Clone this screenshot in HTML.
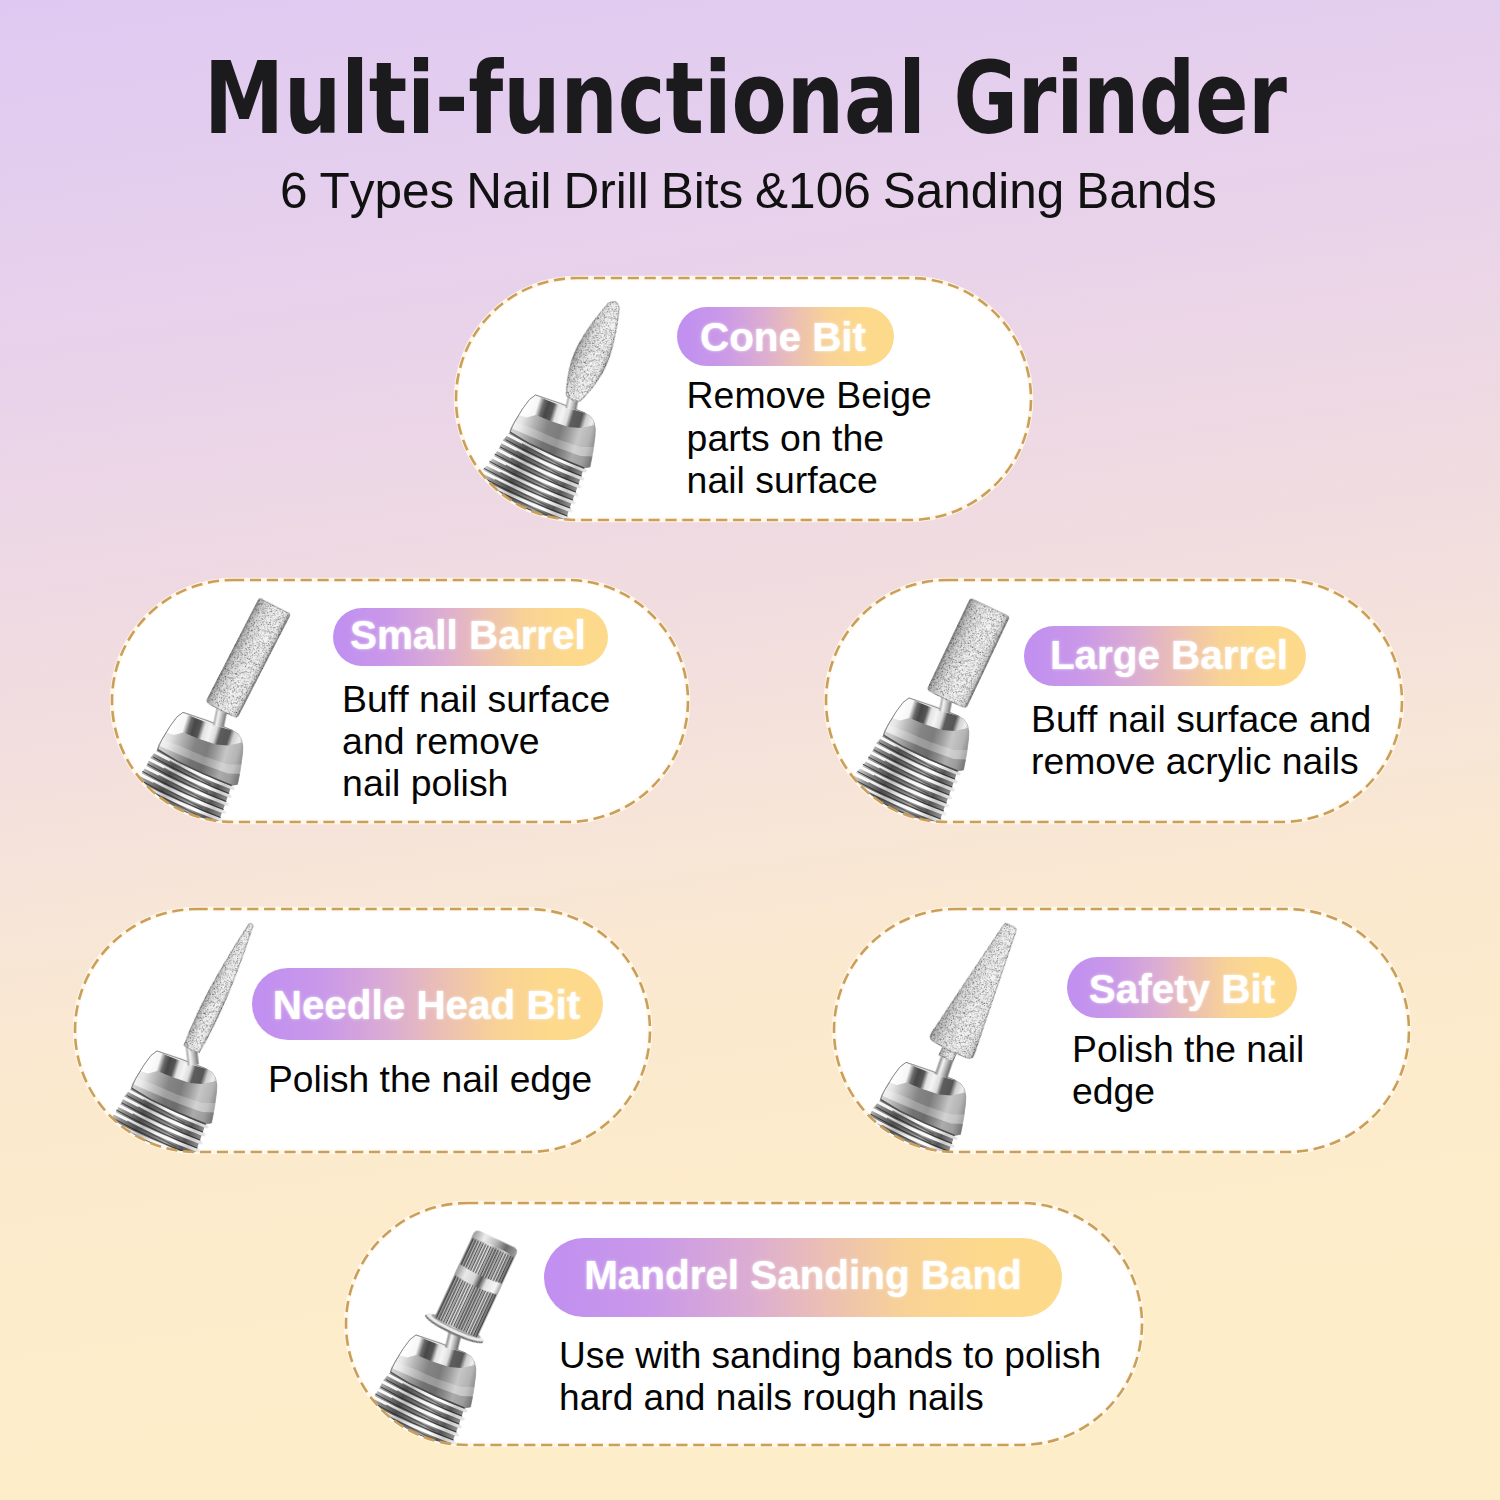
<!DOCTYPE html>
<html lang="en"><head><meta charset="utf-8"><title>Multi-functional Grinder</title>
<style>
html,body{margin:0;padding:0;background:#fff}
#page{position:relative;width:1500px;height:1500px;overflow:hidden;
 background:linear-gradient(172deg,#dfc9f2 0%,#e9d3ea 23.5%,#f2dede 43.8%,#f7e5d8 53.9%,#fbe9ce 64.5%,#feedc9 86%,#feedc9 100%);
 font-family:"Liberation Sans",Arial,sans-serif}
#art{position:absolute;left:0;top:0}
.title{position:absolute;left:0;top:0;white-space:nowrap;font-weight:bold;color:#1b1a1c;transform-origin:0 0}
.sub{position:absolute;white-space:nowrap;color:#111}
.badge{position:absolute;color:#fff;font-weight:bold;font-size:40.4px;text-align:center;white-space:nowrap;
 text-shadow:0 0 2px rgba(255,255,255,.75),0 0 4px rgba(255,255,255,.3)}
.desc{position:absolute;color:#050505;font-size:37.4px;line-height:42.2px;white-space:nowrap;font-kerning:none}
</style></head><body>
<div id="page">

<svg id="art" width="1500" height="1500" viewBox="0 0 1500 1500">
<defs>
<linearGradient id="bg" x1="0" y1="0" x2="1" y2="0">
<stop offset="0" stop-color="#c08ff1"/><stop offset=".2" stop-color="#c998e9"/><stop offset=".4" stop-color="#dcadd2"/>
<stop offset=".55" stop-color="#ecc0b2"/><stop offset=".7" stop-color="#f8d296"/><stop offset=".85" stop-color="#fdd98c"/><stop offset="1" stop-color="#fdd98c"/>
</linearGradient>
<linearGradient id="mCone" gradientUnits="userSpaceOnUse" x1="-12" y1="12" x2="60" y2="34">
<stop offset="0" stop-color="#fff"/><stop offset=".17" stop-color="#f6f6f6"/><stop offset=".24" stop-color="#6a6a6a"/>
<stop offset=".3" stop-color="#474747"/><stop offset=".38" stop-color="#555"/><stop offset=".44" stop-color="#e2e2e2"/>
<stop offset=".52" stop-color="#f4f4f4"/><stop offset=".6" stop-color="#dcdcdc"/><stop offset=".66" stop-color="#5c5c5c"/>
<stop offset=".78" stop-color="#575757"/><stop offset=".84" stop-color="#cfcfcf"/><stop offset=".93" stop-color="#efefef"/><stop offset="1" stop-color="#a8a8a8"/>
</linearGradient>
<linearGradient id="mBody" gradientUnits="userSpaceOnUse" x1="-30" y1="36" x2="60" y2="62">
<stop offset="0" stop-color="#bdbdbd"/><stop offset=".04" stop-color="#f4f4f4"/><stop offset=".14" stop-color="#e4e4e4"/>
<stop offset=".27" stop-color="#b4b4b4"/><stop offset=".42" stop-color="#848484"/><stop offset=".56" stop-color="#7c7c7c"/><stop offset=".66" stop-color="#9d9d9d"/>
<stop offset=".76" stop-color="#c6c6c6"/><stop offset=".88" stop-color="#b4b4b4"/><stop offset=".96" stop-color="#8c8c8c"/><stop offset="1" stop-color="#6c6c6c"/>
</linearGradient>
<linearGradient id="mThr" gradientUnits="userSpaceOnUse" x1="-45" y1="60" x2="45" y2="100">
<stop offset="0" stop-color="#d0d0d0"/><stop offset=".12" stop-color="#8a8a8a"/><stop offset=".3" stop-color="#4d4d4d"/>
<stop offset=".48" stop-color="#777"/><stop offset=".62" stop-color="#a9a9a9"/><stop offset=".8" stop-color="#555"/>
<stop offset="1" stop-color="#a5a5a5"/>
</linearGradient>
<linearGradient id="mRidge" gradientUnits="userSpaceOnUse" x1="-45" y1="60" x2="45" y2="100">
<stop offset="0" stop-color="#fff"/><stop offset=".2" stop-color="#f2f2f2"/><stop offset=".35" stop-color="#bdbdbd"/>
<stop offset=".5" stop-color="#f4f4f4"/><stop offset=".7" stop-color="#fff"/><stop offset=".85" stop-color="#c9c9c9"/>
<stop offset="1" stop-color="#f3f3f3"/>
</linearGradient>
<linearGradient id="mPin" gradientUnits="userSpaceOnUse" x1="-6" y1="0" x2="6" y2="0">
<stop offset="0" stop-color="#8c8c8c"/><stop offset=".3" stop-color="#f4f4f4"/><stop offset=".6" stop-color="#bdbdbd"/><stop offset="1" stop-color="#6a6a6a"/>
</linearGradient>
<linearGradient id="grit" gradientUnits="objectBoundingBox" x1="0" y1="0" x2="1" y2="0">
<stop offset="0" stop-color="#6f6f6f"/><stop offset=".05" stop-color="#b4b4b4"/><stop offset=".25" stop-color="#dedede"/>
<stop offset=".55" stop-color="#f4f4f4"/><stop offset=".82" stop-color="#f0f0f0"/><stop offset=".95" stop-color="#cdcdcd"/><stop offset="1" stop-color="#5f5f5f"/>
</linearGradient>
<filter id="speck" x="-5%" y="-5%" width="110%" height="110%" color-interpolation-filters="sRGB">
<feTurbulence type="fractalNoise" baseFrequency="1.15" numOctaves="2" seed="11" result="n"/>
<feColorMatrix in="n" type="matrix" values="1.7 0 0 0 0.11  1.7 0 0 0 0.11  1.7 0 0 0 0.11  0 0 0 0 1" result="g"/>
<feBlend in="SourceGraphic" in2="g" mode="multiply" result="m"/>
<feComposite in="m" in2="SourceGraphic" operator="in" result="c"/>
<feGaussianBlur in="c" stdDeviation="0.35"/>
</filter>
<filter id="soft" x="-10%" y="-10%" width="120%" height="120%"><feGaussianBlur stdDeviation="0.45"/></filter>

<clipPath id="cp0"><rect x="456" y="278" width="575" height="242" rx="121.0"/></clipPath>
<clipPath id="cp1"><rect x="112" y="580" width="576" height="242" rx="121.0"/></clipPath>
<clipPath id="cp2"><rect x="826" y="580" width="576" height="242" rx="121.0"/></clipPath>
<clipPath id="cp3"><rect x="75" y="909" width="575" height="243" rx="121.5"/></clipPath>
<clipPath id="cp4"><rect x="834" y="909" width="575" height="243" rx="121.5"/></clipPath>
<clipPath id="cp5"><rect x="346" y="1203" width="796" height="242" rx="121.0"/></clipPath>
</defs>
<defs>
<linearGradient id="knurlBase" gradientUnits="objectBoundingBox" x1="0" y1="0" x2="1" y2="0">
<stop offset="0" stop-color="#7a7a7a"/><stop offset=".15" stop-color="#c9c9c9"/><stop offset=".42" stop-color="#ededed"/>
<stop offset=".55" stop-color="#a9a9a9"/><stop offset=".8" stop-color="#e2e2e2"/><stop offset="1" stop-color="#7a7a7a"/>
</linearGradient>
<linearGradient id="knurlMid" gradientUnits="objectBoundingBox" x1="0" y1="0" x2="1" y2="0">
<stop offset="0" stop-color="#9b9b9b"/><stop offset=".2" stop-color="#e9e9e9"/><stop offset=".42" stop-color="#d6d6d6"/>
<stop offset=".55" stop-color="#4f4f4f"/><stop offset=".68" stop-color="#e3e3e3"/><stop offset=".9" stop-color="#f6f6f6"/><stop offset="1" stop-color="#a5a5a5"/>
</linearGradient>
<linearGradient id="knurlCap" gradientUnits="objectBoundingBox" x1="0" y1="0" x2="1" y2="0">
<stop offset="0" stop-color="#9b9b9b"/><stop offset=".25" stop-color="#ededed"/><stop offset=".5" stop-color="#bdbdbd"/>
<stop offset=".75" stop-color="#6b6b6b"/><stop offset="1" stop-color="#9c9c9c"/>
</linearGradient>
</defs>
<rect x="456" y="278" width="575" height="242" rx="121.0" fill="#fff" stroke="#fff8ea" stroke-width="4.5"/>
<rect x="112" y="580" width="576" height="242" rx="121.0" fill="#fff" stroke="#fff8ea" stroke-width="4.5"/>
<rect x="826" y="580" width="576" height="242" rx="121.0" fill="#fff" stroke="#fff8ea" stroke-width="4.5"/>
<rect x="75" y="909" width="575" height="243" rx="121.5" fill="#fff" stroke="#fff8ea" stroke-width="4.5"/>
<rect x="834" y="909" width="575" height="243" rx="121.5" fill="#fff" stroke="#fff8ea" stroke-width="4.5"/>
<rect x="346" y="1203" width="796" height="242" rx="121.0" fill="#fff" stroke="#fff8ea" stroke-width="4.5"/>
<g clip-path="url(#cp0)">
<g transform="translate(535.5,395)" filter="url(#soft)">
<polygon points="-25.5,37 -32.5,45 -36.5,53 -41.5,61 -46.5,68 -52.5,74 -58,82 -62,92 -40,112 -5,130 24,140 29,128 36,108 42,92 48.5,73 19.5,61 -5.5,49" fill="url(#mThr)"/>
<path d="M-27.5,40 Q13.2,62 50,76" fill="none" stroke="url(#mRidge)" stroke-width="3.1" stroke-linecap="round"/>
<path d="M-24.5,37.4 Q13.2,59.1 49,73.1" fill="none" stroke="#222" stroke-opacity=".8" stroke-width="1"/>
<path d="M-13.5,48.5 L28,72" fill="none" stroke="#3a3a3a" stroke-opacity=".6" stroke-width="1.3"/>
<path d="M-32.9,47.2 Q9.2,69.6 47.2,84" fill="none" stroke="url(#mRidge)" stroke-width="3.1" stroke-linecap="round"/>
<path d="M-29.9,44.6 Q9.2,66.7 46.2,81.1" fill="none" stroke="#222" stroke-opacity=".8" stroke-width="1"/>
<path d="M-18.9,55.7 L25.2,80" fill="none" stroke="#3a3a3a" stroke-opacity=".6" stroke-width="1.3"/>
<path d="M-38.3,54.4 Q5.1,77.2 44.4,92" fill="none" stroke="url(#mRidge)" stroke-width="3.1" stroke-linecap="round"/>
<path d="M-35.3,51.8 Q5.1,74.3 43.4,89.1" fill="none" stroke="#222" stroke-opacity=".8" stroke-width="1"/>
<path d="M-24.3,62.9 L22.4,88" fill="none" stroke="#3a3a3a" stroke-opacity=".6" stroke-width="1.3"/>
<path d="M-43.7,61.6 Q0.9,84.8 41.6,100" fill="none" stroke="url(#mRidge)" stroke-width="3.1" stroke-linecap="round"/>
<path d="M-40.7,59 Q0.9,81.9 40.6,97.1" fill="none" stroke="#222" stroke-opacity=".8" stroke-width="1"/>
<path d="M-29.7,70.1 L19.6,96" fill="none" stroke="#3a3a3a" stroke-opacity=".6" stroke-width="1.3"/>
<path d="M-49.1,68.8 Q-3.2,92.4 38.8,108" fill="none" stroke="url(#mRidge)" stroke-width="3.1" stroke-linecap="round"/>
<path d="M-46.1,66.2 Q-3.2,89.5 37.8,105.1" fill="none" stroke="#222" stroke-opacity=".8" stroke-width="1"/>
<path d="M-35.1,77.3 L16.8,104" fill="none" stroke="#3a3a3a" stroke-opacity=".6" stroke-width="1.3"/>
<path d="M-54.5,76 Q-7.2,100 36,116" fill="none" stroke="url(#mRidge)" stroke-width="3.1" stroke-linecap="round"/>
<path d="M-51.5,73.4 Q-7.2,97.1 35,113.1" fill="none" stroke="#222" stroke-opacity=".8" stroke-width="1"/>
<path d="M-40.5,84.5 L14,112" fill="none" stroke="#3a3a3a" stroke-opacity=".6" stroke-width="1.3"/>
<path d="M-59.9,83.2 Q-11.4,107.6 33.2,124" fill="none" stroke="url(#mRidge)" stroke-width="3.1" stroke-linecap="round"/>
<path d="M-56.9,80.6 Q-11.4,104.7 32.2,121.1" fill="none" stroke="#222" stroke-opacity=".8" stroke-width="1"/>
<path d="M-45.9,91.7 L11.2,120" fill="none" stroke="#3a3a3a" stroke-opacity=".6" stroke-width="1.3"/>
<path d="M-65.3,90.4 Q-15.5,115.2 30.4,132" fill="none" stroke="url(#mRidge)" stroke-width="3.1" stroke-linecap="round"/>
<path d="M-62.3,87.8 Q-15.5,112.3 29.4,129.1" fill="none" stroke="#222" stroke-opacity=".8" stroke-width="1"/>
<path d="M-51.3,98.9 L8.4,128" fill="none" stroke="#3a3a3a" stroke-opacity=".6" stroke-width="1.3"/>
<path d="M-70.7,97.6 Q-19.6,122.8 27.6,140" fill="none" stroke="url(#mRidge)" stroke-width="3.1" stroke-linecap="round"/>
<path d="M-67.7,95 Q-19.6,119.9 26.6,137.1" fill="none" stroke="#222" stroke-opacity=".8" stroke-width="1"/>
<path d="M-56.7,106.1 L5.6,136" fill="none" stroke="#3a3a3a" stroke-opacity=".6" stroke-width="1.3"/>
<polygon points="0,0 10,3.2 25,8.5 40,14 49.5,18 55,21.5 58.5,27 59.8,34 59.5,41 57.5,56 54.5,72 48.5,73 19.5,61 -5.5,49 -25.5,37 -24,32 -21,27 -13,14 -6,4.5" fill="url(#mBody)" stroke="#8d8d8d" stroke-width=".7"/>
<polygon points="-24.5,33 -5,41.5 20,52 45,61 57.2,61.5 58.6,52 45,52 20,43.5 -3,33.5 -22,26.5" fill="#fff" fill-opacity=".22"/>
<polygon points="-25.5,37 -5.5,49 19.5,61 48.5,73 54.5,72 57.2,61.5 45,61 20,52 -5,41.5 -24.5,33" fill="#000" fill-opacity=".13"/>
<path d="M-25.5,37 L-5.5,49 L19.5,61 L48.5,73" fill="none" stroke="#333" stroke-opacity=".7" stroke-width="1.4"/>
<polygon points="0,0 10,3.2 25,8.5 40,14 49.5,18 55,21.5 58.5,27 59.2,30 45,33 33,32 15,26 0.5,20 -9,22.5 -16.5,20 -13,14 -6,4.5" fill="url(#mCone)"/>
<path d="M0,0 Q26,5.5 49.5,18 Q24,11.5 0,0Z" fill="#e9e9e9"/>
<path d="M-25.5,37 L-21,27 L-13,14 L-6,4.5 L0,0 L25,8.5 L49.5,18" fill="none" stroke="#7a7a7a" stroke-width=".8"/>
</g>
<g transform="translate(571.5,406) rotate(11.3)" filter="url(#soft)"><rect x="-5.5" y="-9.6" width="11" height="12.6" fill="url(#mPin)"/></g>
<g transform="translate(573,398.5) rotate(23.7)" ><path d="M-7.5,0 C-11,-9 -16.5,-24 -17,-43 C-17,-62 -11.5,-84 -6,-101.6 Q-3.5,-105.6 0,-105.6 Q3.5,-105.6 6,-101.6 C11.5,-84 17,-62 17,-43 C16.5,-24 11,-9 7.5,0 Q0,3 -7.5,0Z" fill="url(#grit)" stroke="#6a6a6a" stroke-width="1" stroke-opacity=".75" filter="url(#speck)"/></g>
</g>
<g clip-path="url(#cp1)">
<g transform="translate(183,712.4)" filter="url(#soft)">
<polygon points="-25.5,37 -32.5,45 -36.5,53 -41.5,61 -46.5,68 -52.5,74 -58,82 -62,92 -40,112 -5,130 24,140 29,128 36,108 42,92 48.5,73 19.5,61 -5.5,49" fill="url(#mThr)"/>
<path d="M-27.5,40 Q13.2,62 50,76" fill="none" stroke="url(#mRidge)" stroke-width="3.1" stroke-linecap="round"/>
<path d="M-24.5,37.4 Q13.2,59.1 49,73.1" fill="none" stroke="#222" stroke-opacity=".8" stroke-width="1"/>
<path d="M-13.5,48.5 L28,72" fill="none" stroke="#3a3a3a" stroke-opacity=".6" stroke-width="1.3"/>
<path d="M-32.9,47.2 Q9.2,69.6 47.2,84" fill="none" stroke="url(#mRidge)" stroke-width="3.1" stroke-linecap="round"/>
<path d="M-29.9,44.6 Q9.2,66.7 46.2,81.1" fill="none" stroke="#222" stroke-opacity=".8" stroke-width="1"/>
<path d="M-18.9,55.7 L25.2,80" fill="none" stroke="#3a3a3a" stroke-opacity=".6" stroke-width="1.3"/>
<path d="M-38.3,54.4 Q5.1,77.2 44.4,92" fill="none" stroke="url(#mRidge)" stroke-width="3.1" stroke-linecap="round"/>
<path d="M-35.3,51.8 Q5.1,74.3 43.4,89.1" fill="none" stroke="#222" stroke-opacity=".8" stroke-width="1"/>
<path d="M-24.3,62.9 L22.4,88" fill="none" stroke="#3a3a3a" stroke-opacity=".6" stroke-width="1.3"/>
<path d="M-43.7,61.6 Q0.9,84.8 41.6,100" fill="none" stroke="url(#mRidge)" stroke-width="3.1" stroke-linecap="round"/>
<path d="M-40.7,59 Q0.9,81.9 40.6,97.1" fill="none" stroke="#222" stroke-opacity=".8" stroke-width="1"/>
<path d="M-29.7,70.1 L19.6,96" fill="none" stroke="#3a3a3a" stroke-opacity=".6" stroke-width="1.3"/>
<path d="M-49.1,68.8 Q-3.2,92.4 38.8,108" fill="none" stroke="url(#mRidge)" stroke-width="3.1" stroke-linecap="round"/>
<path d="M-46.1,66.2 Q-3.2,89.5 37.8,105.1" fill="none" stroke="#222" stroke-opacity=".8" stroke-width="1"/>
<path d="M-35.1,77.3 L16.8,104" fill="none" stroke="#3a3a3a" stroke-opacity=".6" stroke-width="1.3"/>
<path d="M-54.5,76 Q-7.2,100 36,116" fill="none" stroke="url(#mRidge)" stroke-width="3.1" stroke-linecap="round"/>
<path d="M-51.5,73.4 Q-7.2,97.1 35,113.1" fill="none" stroke="#222" stroke-opacity=".8" stroke-width="1"/>
<path d="M-40.5,84.5 L14,112" fill="none" stroke="#3a3a3a" stroke-opacity=".6" stroke-width="1.3"/>
<path d="M-59.9,83.2 Q-11.4,107.6 33.2,124" fill="none" stroke="url(#mRidge)" stroke-width="3.1" stroke-linecap="round"/>
<path d="M-56.9,80.6 Q-11.4,104.7 32.2,121.1" fill="none" stroke="#222" stroke-opacity=".8" stroke-width="1"/>
<path d="M-45.9,91.7 L11.2,120" fill="none" stroke="#3a3a3a" stroke-opacity=".6" stroke-width="1.3"/>
<path d="M-65.3,90.4 Q-15.5,115.2 30.4,132" fill="none" stroke="url(#mRidge)" stroke-width="3.1" stroke-linecap="round"/>
<path d="M-62.3,87.8 Q-15.5,112.3 29.4,129.1" fill="none" stroke="#222" stroke-opacity=".8" stroke-width="1"/>
<path d="M-51.3,98.9 L8.4,128" fill="none" stroke="#3a3a3a" stroke-opacity=".6" stroke-width="1.3"/>
<path d="M-70.7,97.6 Q-19.6,122.8 27.6,140" fill="none" stroke="url(#mRidge)" stroke-width="3.1" stroke-linecap="round"/>
<path d="M-67.7,95 Q-19.6,119.9 26.6,137.1" fill="none" stroke="#222" stroke-opacity=".8" stroke-width="1"/>
<path d="M-56.7,106.1 L5.6,136" fill="none" stroke="#3a3a3a" stroke-opacity=".6" stroke-width="1.3"/>
<polygon points="0,0 10,3.2 25,8.5 40,14 49.5,18 55,21.5 58.5,27 59.8,34 59.5,41 57.5,56 54.5,72 48.5,73 19.5,61 -5.5,49 -25.5,37 -24,32 -21,27 -13,14 -6,4.5" fill="url(#mBody)" stroke="#8d8d8d" stroke-width=".7"/>
<polygon points="-24.5,33 -5,41.5 20,52 45,61 57.2,61.5 58.6,52 45,52 20,43.5 -3,33.5 -22,26.5" fill="#fff" fill-opacity=".22"/>
<polygon points="-25.5,37 -5.5,49 19.5,61 48.5,73 54.5,72 57.2,61.5 45,61 20,52 -5,41.5 -24.5,33" fill="#000" fill-opacity=".13"/>
<path d="M-25.5,37 L-5.5,49 L19.5,61 L48.5,73" fill="none" stroke="#333" stroke-opacity=".7" stroke-width="1.4"/>
<polygon points="0,0 10,3.2 25,8.5 40,14 49.5,18 55,21.5 58.5,27 59.2,30 45,33 33,32 15,26 0.5,20 -9,22.5 -16.5,20 -13,14 -6,4.5" fill="url(#mCone)"/>
<path d="M0,0 Q26,5.5 49.5,18 Q24,11.5 0,0Z" fill="#e9e9e9"/>
<path d="M-25.5,37 L-21,27 L-13,14 L-6,4.5 L0,0 L25,8.5 L49.5,18" fill="none" stroke="#7a7a7a" stroke-width=".8"/>
</g>
<g transform="translate(219,723.4) rotate(11.8)" filter="url(#soft)"><rect x="-5.5" y="-16.7" width="11" height="19.7" fill="url(#mPin)"/></g>
<g transform="translate(222,709) rotate(27.2)" ><path d="M-15.5,1 Q-17.5,1 -17.5,-2 L-17.5,-113.8 Q-17.5,-115.8 -15.5,-115.8 L15.5,-115.8 Q17.5,-115.8 17.5,-113.8 L17.5,-2 Q17.5,1 15.5,1 Q0,3 -15.5,1Z" fill="url(#grit)" stroke="#6a6a6a" stroke-width="1" stroke-opacity=".75" filter="url(#speck)"/></g>
</g>
<g clip-path="url(#cp2)">
<g transform="translate(909,698)" filter="url(#soft)">
<polygon points="-25.5,37 -32.5,45 -36.5,53 -41.5,61 -46.5,68 -52.5,74 -58,82 -62,92 -40,112 -5,130 24,140 29,128 36,108 42,92 48.5,73 19.5,61 -5.5,49" fill="url(#mThr)"/>
<path d="M-27.5,40 Q13.2,62 50,76" fill="none" stroke="url(#mRidge)" stroke-width="3.1" stroke-linecap="round"/>
<path d="M-24.5,37.4 Q13.2,59.1 49,73.1" fill="none" stroke="#222" stroke-opacity=".8" stroke-width="1"/>
<path d="M-13.5,48.5 L28,72" fill="none" stroke="#3a3a3a" stroke-opacity=".6" stroke-width="1.3"/>
<path d="M-32.9,47.2 Q9.2,69.6 47.2,84" fill="none" stroke="url(#mRidge)" stroke-width="3.1" stroke-linecap="round"/>
<path d="M-29.9,44.6 Q9.2,66.7 46.2,81.1" fill="none" stroke="#222" stroke-opacity=".8" stroke-width="1"/>
<path d="M-18.9,55.7 L25.2,80" fill="none" stroke="#3a3a3a" stroke-opacity=".6" stroke-width="1.3"/>
<path d="M-38.3,54.4 Q5.1,77.2 44.4,92" fill="none" stroke="url(#mRidge)" stroke-width="3.1" stroke-linecap="round"/>
<path d="M-35.3,51.8 Q5.1,74.3 43.4,89.1" fill="none" stroke="#222" stroke-opacity=".8" stroke-width="1"/>
<path d="M-24.3,62.9 L22.4,88" fill="none" stroke="#3a3a3a" stroke-opacity=".6" stroke-width="1.3"/>
<path d="M-43.7,61.6 Q0.9,84.8 41.6,100" fill="none" stroke="url(#mRidge)" stroke-width="3.1" stroke-linecap="round"/>
<path d="M-40.7,59 Q0.9,81.9 40.6,97.1" fill="none" stroke="#222" stroke-opacity=".8" stroke-width="1"/>
<path d="M-29.7,70.1 L19.6,96" fill="none" stroke="#3a3a3a" stroke-opacity=".6" stroke-width="1.3"/>
<path d="M-49.1,68.8 Q-3.2,92.4 38.8,108" fill="none" stroke="url(#mRidge)" stroke-width="3.1" stroke-linecap="round"/>
<path d="M-46.1,66.2 Q-3.2,89.5 37.8,105.1" fill="none" stroke="#222" stroke-opacity=".8" stroke-width="1"/>
<path d="M-35.1,77.3 L16.8,104" fill="none" stroke="#3a3a3a" stroke-opacity=".6" stroke-width="1.3"/>
<path d="M-54.5,76 Q-7.2,100 36,116" fill="none" stroke="url(#mRidge)" stroke-width="3.1" stroke-linecap="round"/>
<path d="M-51.5,73.4 Q-7.2,97.1 35,113.1" fill="none" stroke="#222" stroke-opacity=".8" stroke-width="1"/>
<path d="M-40.5,84.5 L14,112" fill="none" stroke="#3a3a3a" stroke-opacity=".6" stroke-width="1.3"/>
<path d="M-59.9,83.2 Q-11.4,107.6 33.2,124" fill="none" stroke="url(#mRidge)" stroke-width="3.1" stroke-linecap="round"/>
<path d="M-56.9,80.6 Q-11.4,104.7 32.2,121.1" fill="none" stroke="#222" stroke-opacity=".8" stroke-width="1"/>
<path d="M-45.9,91.7 L11.2,120" fill="none" stroke="#3a3a3a" stroke-opacity=".6" stroke-width="1.3"/>
<path d="M-65.3,90.4 Q-15.5,115.2 30.4,132" fill="none" stroke="url(#mRidge)" stroke-width="3.1" stroke-linecap="round"/>
<path d="M-62.3,87.8 Q-15.5,112.3 29.4,129.1" fill="none" stroke="#222" stroke-opacity=".8" stroke-width="1"/>
<path d="M-51.3,98.9 L8.4,128" fill="none" stroke="#3a3a3a" stroke-opacity=".6" stroke-width="1.3"/>
<path d="M-70.7,97.6 Q-19.6,122.8 27.6,140" fill="none" stroke="url(#mRidge)" stroke-width="3.1" stroke-linecap="round"/>
<path d="M-67.7,95 Q-19.6,119.9 26.6,137.1" fill="none" stroke="#222" stroke-opacity=".8" stroke-width="1"/>
<path d="M-56.7,106.1 L5.6,136" fill="none" stroke="#3a3a3a" stroke-opacity=".6" stroke-width="1.3"/>
<polygon points="0,0 10,3.2 25,8.5 40,14 49.5,18 55,21.5 58.5,27 59.8,34 59.5,41 57.5,56 54.5,72 48.5,73 19.5,61 -5.5,49 -25.5,37 -24,32 -21,27 -13,14 -6,4.5" fill="url(#mBody)" stroke="#8d8d8d" stroke-width=".7"/>
<polygon points="-24.5,33 -5,41.5 20,52 45,61 57.2,61.5 58.6,52 45,52 20,43.5 -3,33.5 -22,26.5" fill="#fff" fill-opacity=".22"/>
<polygon points="-25.5,37 -5.5,49 19.5,61 48.5,73 54.5,72 57.2,61.5 45,61 20,52 -5,41.5 -24.5,33" fill="#000" fill-opacity=".13"/>
<path d="M-25.5,37 L-5.5,49 L19.5,61 L48.5,73" fill="none" stroke="#333" stroke-opacity=".7" stroke-width="1.4"/>
<polygon points="0,0 10,3.2 25,8.5 40,14 49.5,18 55,21.5 58.5,27 59.2,30 45,33 33,32 15,26 0.5,20 -9,22.5 -16.5,20 -13,14 -6,4.5" fill="url(#mCone)"/>
<path d="M0,0 Q26,5.5 49.5,18 Q24,11.5 0,0Z" fill="#e9e9e9"/>
<path d="M-25.5,37 L-21,27 L-13,14 L-6,4.5 L0,0 L25,8.5 L49.5,18" fill="none" stroke="#7a7a7a" stroke-width=".8"/>
</g>
<g transform="translate(945,709) rotate(10.3)" filter="url(#soft)"><rect x="-5.5" y="-13.2" width="11" height="16.2" fill="url(#mPin)"/></g>
<g transform="translate(947,698) rotate(25.4)" ><path d="M-19.5,1 Q-21.5,1 -21.5,-2 L-21.5,-98.2 Q-21.5,-100.2 -19.5,-100.2 L19.5,-100.2 Q21.5,-100.2 21.5,-98.2 L21.5,-2 Q21.5,1 19.5,1 Q0,3 -19.5,1Z" fill="url(#grit)" stroke="#6a6a6a" stroke-width="1" stroke-opacity=".75" filter="url(#speck)"/></g>
</g>
<g clip-path="url(#cp3)">
<g transform="translate(157,1051)" filter="url(#soft)">
<polygon points="-25.5,37 -32.5,45 -36.5,53 -41.5,61 -46.5,68 -52.5,74 -58,82 -62,92 -40,112 -5,130 24,140 29,128 36,108 42,92 48.5,73 19.5,61 -5.5,49" fill="url(#mThr)"/>
<path d="M-27.5,40 Q13.2,62 50,76" fill="none" stroke="url(#mRidge)" stroke-width="3.1" stroke-linecap="round"/>
<path d="M-24.5,37.4 Q13.2,59.1 49,73.1" fill="none" stroke="#222" stroke-opacity=".8" stroke-width="1"/>
<path d="M-13.5,48.5 L28,72" fill="none" stroke="#3a3a3a" stroke-opacity=".6" stroke-width="1.3"/>
<path d="M-32.9,47.2 Q9.2,69.6 47.2,84" fill="none" stroke="url(#mRidge)" stroke-width="3.1" stroke-linecap="round"/>
<path d="M-29.9,44.6 Q9.2,66.7 46.2,81.1" fill="none" stroke="#222" stroke-opacity=".8" stroke-width="1"/>
<path d="M-18.9,55.7 L25.2,80" fill="none" stroke="#3a3a3a" stroke-opacity=".6" stroke-width="1.3"/>
<path d="M-38.3,54.4 Q5.1,77.2 44.4,92" fill="none" stroke="url(#mRidge)" stroke-width="3.1" stroke-linecap="round"/>
<path d="M-35.3,51.8 Q5.1,74.3 43.4,89.1" fill="none" stroke="#222" stroke-opacity=".8" stroke-width="1"/>
<path d="M-24.3,62.9 L22.4,88" fill="none" stroke="#3a3a3a" stroke-opacity=".6" stroke-width="1.3"/>
<path d="M-43.7,61.6 Q0.9,84.8 41.6,100" fill="none" stroke="url(#mRidge)" stroke-width="3.1" stroke-linecap="round"/>
<path d="M-40.7,59 Q0.9,81.9 40.6,97.1" fill="none" stroke="#222" stroke-opacity=".8" stroke-width="1"/>
<path d="M-29.7,70.1 L19.6,96" fill="none" stroke="#3a3a3a" stroke-opacity=".6" stroke-width="1.3"/>
<path d="M-49.1,68.8 Q-3.2,92.4 38.8,108" fill="none" stroke="url(#mRidge)" stroke-width="3.1" stroke-linecap="round"/>
<path d="M-46.1,66.2 Q-3.2,89.5 37.8,105.1" fill="none" stroke="#222" stroke-opacity=".8" stroke-width="1"/>
<path d="M-35.1,77.3 L16.8,104" fill="none" stroke="#3a3a3a" stroke-opacity=".6" stroke-width="1.3"/>
<path d="M-54.5,76 Q-7.2,100 36,116" fill="none" stroke="url(#mRidge)" stroke-width="3.1" stroke-linecap="round"/>
<path d="M-51.5,73.4 Q-7.2,97.1 35,113.1" fill="none" stroke="#222" stroke-opacity=".8" stroke-width="1"/>
<path d="M-40.5,84.5 L14,112" fill="none" stroke="#3a3a3a" stroke-opacity=".6" stroke-width="1.3"/>
<path d="M-59.9,83.2 Q-11.4,107.6 33.2,124" fill="none" stroke="url(#mRidge)" stroke-width="3.1" stroke-linecap="round"/>
<path d="M-56.9,80.6 Q-11.4,104.7 32.2,121.1" fill="none" stroke="#222" stroke-opacity=".8" stroke-width="1"/>
<path d="M-45.9,91.7 L11.2,120" fill="none" stroke="#3a3a3a" stroke-opacity=".6" stroke-width="1.3"/>
<path d="M-65.3,90.4 Q-15.5,115.2 30.4,132" fill="none" stroke="url(#mRidge)" stroke-width="3.1" stroke-linecap="round"/>
<path d="M-62.3,87.8 Q-15.5,112.3 29.4,129.1" fill="none" stroke="#222" stroke-opacity=".8" stroke-width="1"/>
<path d="M-51.3,98.9 L8.4,128" fill="none" stroke="#3a3a3a" stroke-opacity=".6" stroke-width="1.3"/>
<path d="M-70.7,97.6 Q-19.6,122.8 27.6,140" fill="none" stroke="url(#mRidge)" stroke-width="3.1" stroke-linecap="round"/>
<path d="M-67.7,95 Q-19.6,119.9 26.6,137.1" fill="none" stroke="#222" stroke-opacity=".8" stroke-width="1"/>
<path d="M-56.7,106.1 L5.6,136" fill="none" stroke="#3a3a3a" stroke-opacity=".6" stroke-width="1.3"/>
<polygon points="0,0 10,3.2 25,8.5 40,14 49.5,18 55,21.5 58.5,27 59.8,34 59.5,41 57.5,56 54.5,72 48.5,73 19.5,61 -5.5,49 -25.5,37 -24,32 -21,27 -13,14 -6,4.5" fill="url(#mBody)" stroke="#8d8d8d" stroke-width=".7"/>
<polygon points="-24.5,33 -5,41.5 20,52 45,61 57.2,61.5 58.6,52 45,52 20,43.5 -3,33.5 -22,26.5" fill="#fff" fill-opacity=".22"/>
<polygon points="-25.5,37 -5.5,49 19.5,61 48.5,73 54.5,72 57.2,61.5 45,61 20,52 -5,41.5 -24.5,33" fill="#000" fill-opacity=".13"/>
<path d="M-25.5,37 L-5.5,49 L19.5,61 L48.5,73" fill="none" stroke="#333" stroke-opacity=".7" stroke-width="1.4"/>
<polygon points="0,0 10,3.2 25,8.5 40,14 49.5,18 55,21.5 58.5,27 59.2,30 45,33 33,32 15,26 0.5,20 -9,22.5 -16.5,20 -13,14 -6,4.5" fill="url(#mCone)"/>
<path d="M0,0 Q26,5.5 49.5,18 Q24,11.5 0,0Z" fill="#e9e9e9"/>
<path d="M-25.5,37 L-21,27 L-13,14 L-6,4.5 L0,0 L25,8.5 L49.5,18" fill="none" stroke="#7a7a7a" stroke-width=".8"/>
</g>
<g transform="translate(193,1062) rotate(-6.6)" filter="url(#soft)"><rect x="-5.5" y="-15.1" width="11" height="18.1" fill="url(#mPin)"/></g>
<g transform="translate(191.5,1049) rotate(25.6)" ><path d="M-8.5,0 C-10,-20 -10.5,-40 -9.5,-60 C-8,-90 -5,-118 -2.2,-137.8 Q0,-140.8 2.2,-137.8 C5,-118 8,-90 9.5,-60 C10.5,-40 10,-20 8.5,0 Q0,2.5 -8.5,0Z" fill="url(#grit)" stroke="#6a6a6a" stroke-width="1" stroke-opacity=".75" filter="url(#speck)"/></g>
</g>
<g clip-path="url(#cp4)">
<g transform="translate(906,1062.4)" filter="url(#soft)">
<polygon points="-25.5,37 -32.5,45 -36.5,53 -41.5,61 -46.5,68 -52.5,74 -58,82 -62,92 -40,112 -5,130 24,140 29,128 36,108 42,92 48.5,73 19.5,61 -5.5,49" fill="url(#mThr)"/>
<path d="M-27.5,40 Q13.2,62 50,76" fill="none" stroke="url(#mRidge)" stroke-width="3.1" stroke-linecap="round"/>
<path d="M-24.5,37.4 Q13.2,59.1 49,73.1" fill="none" stroke="#222" stroke-opacity=".8" stroke-width="1"/>
<path d="M-13.5,48.5 L28,72" fill="none" stroke="#3a3a3a" stroke-opacity=".6" stroke-width="1.3"/>
<path d="M-32.9,47.2 Q9.2,69.6 47.2,84" fill="none" stroke="url(#mRidge)" stroke-width="3.1" stroke-linecap="round"/>
<path d="M-29.9,44.6 Q9.2,66.7 46.2,81.1" fill="none" stroke="#222" stroke-opacity=".8" stroke-width="1"/>
<path d="M-18.9,55.7 L25.2,80" fill="none" stroke="#3a3a3a" stroke-opacity=".6" stroke-width="1.3"/>
<path d="M-38.3,54.4 Q5.1,77.2 44.4,92" fill="none" stroke="url(#mRidge)" stroke-width="3.1" stroke-linecap="round"/>
<path d="M-35.3,51.8 Q5.1,74.3 43.4,89.1" fill="none" stroke="#222" stroke-opacity=".8" stroke-width="1"/>
<path d="M-24.3,62.9 L22.4,88" fill="none" stroke="#3a3a3a" stroke-opacity=".6" stroke-width="1.3"/>
<path d="M-43.7,61.6 Q0.9,84.8 41.6,100" fill="none" stroke="url(#mRidge)" stroke-width="3.1" stroke-linecap="round"/>
<path d="M-40.7,59 Q0.9,81.9 40.6,97.1" fill="none" stroke="#222" stroke-opacity=".8" stroke-width="1"/>
<path d="M-29.7,70.1 L19.6,96" fill="none" stroke="#3a3a3a" stroke-opacity=".6" stroke-width="1.3"/>
<path d="M-49.1,68.8 Q-3.2,92.4 38.8,108" fill="none" stroke="url(#mRidge)" stroke-width="3.1" stroke-linecap="round"/>
<path d="M-46.1,66.2 Q-3.2,89.5 37.8,105.1" fill="none" stroke="#222" stroke-opacity=".8" stroke-width="1"/>
<path d="M-35.1,77.3 L16.8,104" fill="none" stroke="#3a3a3a" stroke-opacity=".6" stroke-width="1.3"/>
<path d="M-54.5,76 Q-7.2,100 36,116" fill="none" stroke="url(#mRidge)" stroke-width="3.1" stroke-linecap="round"/>
<path d="M-51.5,73.4 Q-7.2,97.1 35,113.1" fill="none" stroke="#222" stroke-opacity=".8" stroke-width="1"/>
<path d="M-40.5,84.5 L14,112" fill="none" stroke="#3a3a3a" stroke-opacity=".6" stroke-width="1.3"/>
<path d="M-59.9,83.2 Q-11.4,107.6 33.2,124" fill="none" stroke="url(#mRidge)" stroke-width="3.1" stroke-linecap="round"/>
<path d="M-56.9,80.6 Q-11.4,104.7 32.2,121.1" fill="none" stroke="#222" stroke-opacity=".8" stroke-width="1"/>
<path d="M-45.9,91.7 L11.2,120" fill="none" stroke="#3a3a3a" stroke-opacity=".6" stroke-width="1.3"/>
<path d="M-65.3,90.4 Q-15.5,115.2 30.4,132" fill="none" stroke="url(#mRidge)" stroke-width="3.1" stroke-linecap="round"/>
<path d="M-62.3,87.8 Q-15.5,112.3 29.4,129.1" fill="none" stroke="#222" stroke-opacity=".8" stroke-width="1"/>
<path d="M-51.3,98.9 L8.4,128" fill="none" stroke="#3a3a3a" stroke-opacity=".6" stroke-width="1.3"/>
<path d="M-70.7,97.6 Q-19.6,122.8 27.6,140" fill="none" stroke="url(#mRidge)" stroke-width="3.1" stroke-linecap="round"/>
<path d="M-67.7,95 Q-19.6,119.9 26.6,137.1" fill="none" stroke="#222" stroke-opacity=".8" stroke-width="1"/>
<path d="M-56.7,106.1 L5.6,136" fill="none" stroke="#3a3a3a" stroke-opacity=".6" stroke-width="1.3"/>
<polygon points="0,0 10,3.2 25,8.5 40,14 49.5,18 55,21.5 58.5,27 59.8,34 59.5,41 57.5,56 54.5,72 48.5,73 19.5,61 -5.5,49 -25.5,37 -24,32 -21,27 -13,14 -6,4.5" fill="url(#mBody)" stroke="#8d8d8d" stroke-width=".7"/>
<polygon points="-24.5,33 -5,41.5 20,52 45,61 57.2,61.5 58.6,52 45,52 20,43.5 -3,33.5 -22,26.5" fill="#fff" fill-opacity=".22"/>
<polygon points="-25.5,37 -5.5,49 19.5,61 48.5,73 54.5,72 57.2,61.5 45,61 20,52 -5,41.5 -24.5,33" fill="#000" fill-opacity=".13"/>
<path d="M-25.5,37 L-5.5,49 L19.5,61 L48.5,73" fill="none" stroke="#333" stroke-opacity=".7" stroke-width="1.4"/>
<polygon points="0,0 10,3.2 25,8.5 40,14 49.5,18 55,21.5 58.5,27 59.2,30 45,33 33,32 15,26 0.5,20 -9,22.5 -16.5,20 -13,14 -6,4.5" fill="url(#mCone)"/>
<path d="M0,0 Q26,5.5 49.5,18 Q24,11.5 0,0Z" fill="#e9e9e9"/>
<path d="M-25.5,37 L-21,27 L-13,14 L-6,4.5 L0,0 L25,8.5 L49.5,18" fill="none" stroke="#7a7a7a" stroke-width=".8"/>
</g>
<g transform="translate(942,1073.4) rotate(18.8)" filter="url(#soft)"><rect x="-6.5" y="-28.3" width="13" height="31.3" fill="url(#mPin)"/></g>
<g transform="translate(950.5,1048.5) rotate(26.2)" ><rect x="-7.5" y="-2" width="15" height="13" fill="url(#grit)" stroke="#6a6a6a" stroke-width="1" stroke-opacity=".75" filter="url(#speck)"/><path d="M-20,1 Q-24.5,0 -24,-5 L-6.8,-135.1 Q-6.3,-137.1 -4,-137.1 L4,-137.1 Q6.3,-137.1 6.8,-135.1 L24,-5 Q24.5,0 20,1 Q0,4 -20,1Z" fill="url(#grit)" stroke="#6a6a6a" stroke-width="1" stroke-opacity=".75" filter="url(#speck)"/></g>
</g>
<g clip-path="url(#cp5)">
<g transform="translate(416,1335)" filter="url(#soft)">
<polygon points="-25.5,37 -32.5,45 -36.5,53 -41.5,61 -46.5,68 -52.5,74 -58,82 -62,92 -40,112 -5,130 24,140 29,128 36,108 42,92 48.5,73 19.5,61 -5.5,49" fill="url(#mThr)"/>
<path d="M-27.5,40 Q13.2,62 50,76" fill="none" stroke="url(#mRidge)" stroke-width="3.1" stroke-linecap="round"/>
<path d="M-24.5,37.4 Q13.2,59.1 49,73.1" fill="none" stroke="#222" stroke-opacity=".8" stroke-width="1"/>
<path d="M-13.5,48.5 L28,72" fill="none" stroke="#3a3a3a" stroke-opacity=".6" stroke-width="1.3"/>
<path d="M-32.9,47.2 Q9.2,69.6 47.2,84" fill="none" stroke="url(#mRidge)" stroke-width="3.1" stroke-linecap="round"/>
<path d="M-29.9,44.6 Q9.2,66.7 46.2,81.1" fill="none" stroke="#222" stroke-opacity=".8" stroke-width="1"/>
<path d="M-18.9,55.7 L25.2,80" fill="none" stroke="#3a3a3a" stroke-opacity=".6" stroke-width="1.3"/>
<path d="M-38.3,54.4 Q5.1,77.2 44.4,92" fill="none" stroke="url(#mRidge)" stroke-width="3.1" stroke-linecap="round"/>
<path d="M-35.3,51.8 Q5.1,74.3 43.4,89.1" fill="none" stroke="#222" stroke-opacity=".8" stroke-width="1"/>
<path d="M-24.3,62.9 L22.4,88" fill="none" stroke="#3a3a3a" stroke-opacity=".6" stroke-width="1.3"/>
<path d="M-43.7,61.6 Q0.9,84.8 41.6,100" fill="none" stroke="url(#mRidge)" stroke-width="3.1" stroke-linecap="round"/>
<path d="M-40.7,59 Q0.9,81.9 40.6,97.1" fill="none" stroke="#222" stroke-opacity=".8" stroke-width="1"/>
<path d="M-29.7,70.1 L19.6,96" fill="none" stroke="#3a3a3a" stroke-opacity=".6" stroke-width="1.3"/>
<path d="M-49.1,68.8 Q-3.2,92.4 38.8,108" fill="none" stroke="url(#mRidge)" stroke-width="3.1" stroke-linecap="round"/>
<path d="M-46.1,66.2 Q-3.2,89.5 37.8,105.1" fill="none" stroke="#222" stroke-opacity=".8" stroke-width="1"/>
<path d="M-35.1,77.3 L16.8,104" fill="none" stroke="#3a3a3a" stroke-opacity=".6" stroke-width="1.3"/>
<path d="M-54.5,76 Q-7.2,100 36,116" fill="none" stroke="url(#mRidge)" stroke-width="3.1" stroke-linecap="round"/>
<path d="M-51.5,73.4 Q-7.2,97.1 35,113.1" fill="none" stroke="#222" stroke-opacity=".8" stroke-width="1"/>
<path d="M-40.5,84.5 L14,112" fill="none" stroke="#3a3a3a" stroke-opacity=".6" stroke-width="1.3"/>
<path d="M-59.9,83.2 Q-11.4,107.6 33.2,124" fill="none" stroke="url(#mRidge)" stroke-width="3.1" stroke-linecap="round"/>
<path d="M-56.9,80.6 Q-11.4,104.7 32.2,121.1" fill="none" stroke="#222" stroke-opacity=".8" stroke-width="1"/>
<path d="M-45.9,91.7 L11.2,120" fill="none" stroke="#3a3a3a" stroke-opacity=".6" stroke-width="1.3"/>
<path d="M-65.3,90.4 Q-15.5,115.2 30.4,132" fill="none" stroke="url(#mRidge)" stroke-width="3.1" stroke-linecap="round"/>
<path d="M-62.3,87.8 Q-15.5,112.3 29.4,129.1" fill="none" stroke="#222" stroke-opacity=".8" stroke-width="1"/>
<path d="M-51.3,98.9 L8.4,128" fill="none" stroke="#3a3a3a" stroke-opacity=".6" stroke-width="1.3"/>
<path d="M-70.7,97.6 Q-19.6,122.8 27.6,140" fill="none" stroke="url(#mRidge)" stroke-width="3.1" stroke-linecap="round"/>
<path d="M-67.7,95 Q-19.6,119.9 26.6,137.1" fill="none" stroke="#222" stroke-opacity=".8" stroke-width="1"/>
<path d="M-56.7,106.1 L5.6,136" fill="none" stroke="#3a3a3a" stroke-opacity=".6" stroke-width="1.3"/>
<polygon points="0,0 10,3.2 25,8.5 40,14 49.5,18 55,21.5 58.5,27 59.8,34 59.5,41 57.5,56 54.5,72 48.5,73 19.5,61 -5.5,49 -25.5,37 -24,32 -21,27 -13,14 -6,4.5" fill="url(#mBody)" stroke="#8d8d8d" stroke-width=".7"/>
<polygon points="-24.5,33 -5,41.5 20,52 45,61 57.2,61.5 58.6,52 45,52 20,43.5 -3,33.5 -22,26.5" fill="#fff" fill-opacity=".22"/>
<polygon points="-25.5,37 -5.5,49 19.5,61 48.5,73 54.5,72 57.2,61.5 45,61 20,52 -5,41.5 -24.5,33" fill="#000" fill-opacity=".13"/>
<path d="M-25.5,37 L-5.5,49 L19.5,61 L48.5,73" fill="none" stroke="#333" stroke-opacity=".7" stroke-width="1.4"/>
<polygon points="0,0 10,3.2 25,8.5 40,14 49.5,18 55,21.5 58.5,27 59.2,30 45,33 33,32 15,26 0.5,20 -9,22.5 -16.5,20 -13,14 -6,4.5" fill="url(#mCone)"/>
<path d="M0,0 Q26,5.5 49.5,18 Q24,11.5 0,0Z" fill="#e9e9e9"/>
<path d="M-25.5,37 L-21,27 L-13,14 L-6,4.5 L0,0 L25,8.5 L49.5,18" fill="none" stroke="#7a7a7a" stroke-width=".8"/>
</g>
<g transform="translate(452,1346) rotate(13.4)" filter="url(#soft)"><rect x="-6.5" y="-23.6" width="13" height="26.6" fill="url(#mPin)"/></g>
<g transform="translate(457,1325) rotate(25)" filter="url(#soft)"><ellipse cx="-1" cy="4.5" rx="32" ry="6" fill="#777"/><ellipse cx="-1" cy="3" rx="31.5" ry="5.2" fill="#ececec"/><ellipse cx="-0.5" cy="1.5" rx="27" ry="3.8" fill="#a2a2a2"/><path d="M-23.5,1 L-23.5,-89.5 Q-23.5,-94.5 -18.5,-94.5 L18.5,-94.5 Q23.5,-94.5 23.5,-89.5 L23.5,1 Q0,7 -23.5,1Z" fill="url(#knurlBase)"/><path d="M-21.7,3 L-21.7,-85.5 M-18.9,3 L-18.9,-85.5 M-16.2,3 L-16.2,-85.5 M-13.4,3 L-13.4,-85.5 M-10.7,3 L-10.7,-85.5 M-7.9,3 L-7.9,-85.5 M-5.2,3 L-5.2,-85.5 M-2.4,3 L-2.4,-85.5 M0.3,3 L0.3,-85.5 M3.1,3 L3.1,-85.5 M5.8,3 L5.8,-85.5 M8.6,3 L8.6,-85.5 M11.3,3 L11.3,-85.5 M14.1,3 L14.1,-85.5 M16.8,3 L16.8,-85.5 M19.6,3 L19.6,-85.5 M22.3,3 L22.3,-85.5" stroke="#2e2e2e" stroke-opacity=".85" stroke-width="1.3" fill="none"/><path d="M-23.5,-44.4 Q0,-40.4 23.5,-44.4 L23.5,-56.4 Q0,-52.4 -23.5,-56.4Z" fill="url(#knurlMid)"/><path d="M-23.5,-85.5 L-23.5,-89.5 Q-23.5,-94.5 -18.5,-94.5 L18.5,-94.5 Q23.5,-94.5 23.5,-89.5 L23.5,-85.5 Q0,-89.5 -23.5,-85.5Z" fill="url(#knurlCap)"/></g>
</g>
<rect x="456" y="278" width="575" height="242" rx="121.0" fill="none" stroke="#cb9f5a" stroke-width="2.6" stroke-dasharray="11.2 5.7"/>
<rect x="112" y="580" width="576" height="242" rx="121.0" fill="none" stroke="#cb9f5a" stroke-width="2.6" stroke-dasharray="11.2 5.7"/>
<rect x="826" y="580" width="576" height="242" rx="121.0" fill="none" stroke="#cb9f5a" stroke-width="2.6" stroke-dasharray="11.2 5.7"/>
<rect x="75" y="909" width="575" height="243" rx="121.5" fill="none" stroke="#cb9f5a" stroke-width="2.6" stroke-dasharray="11.2 5.7"/>
<rect x="834" y="909" width="575" height="243" rx="121.5" fill="none" stroke="#cb9f5a" stroke-width="2.6" stroke-dasharray="11.2 5.7"/>
<rect x="346" y="1203" width="796" height="242" rx="121.0" fill="none" stroke="#cb9f5a" stroke-width="2.6" stroke-dasharray="11.2 5.7"/>
<rect x="677" y="307" width="217" height="59" rx="29.5" fill="url(#bg)"/>
<rect x="333" y="608" width="275" height="58" rx="29.0" fill="url(#bg)"/>
<rect x="1024" y="626" width="282" height="60" rx="30.0" fill="url(#bg)"/>
<rect x="252" y="968" width="351" height="72" rx="36.0" fill="url(#bg)"/>
<rect x="1067" y="957" width="230" height="61" rx="30.5" fill="url(#bg)"/>
<rect x="544" y="1238" width="518" height="79" rx="39.5" fill="url(#bg)"/>
</svg>
<div class="title" style="font-family:'DejaVu Sans Condensed','DejaVu Sans','Liberation Sans',sans-serif;font-stretch:condensed;font-size:100px;line-height:100px;transform:translate(204.0px,49.2px) scaleX(0.894)">Multi-functional</div>
<div class="title" style="font-family:'DejaVu Sans Condensed','DejaVu Sans','Liberation Sans',sans-serif;font-stretch:condensed;font-size:100px;line-height:100px;transform:translate(953.5px,49.2px) scaleX(0.871)">Grinder</div>
<div class="sub" style="font-size:49.5px;line-height:49.5px;left:280px;top:165.9px;word-spacing:-1.8px;font-kerning:none">6 Types Nail Drill Bits &amp;106 Sanding Bands</div>
<div class="badge" style="left:674.5px;top:307.5px;width:217px;height:59px;line-height:58px">Cone Bit</div>
<div class="badge" style="left:330.4px;top:607.2px;width:275px;height:58px;line-height:57px">Small Barrel</div>
<div class="badge" style="left:1027.9px;top:626px;width:282px;height:60px;line-height:59px">Large Barrel</div>
<div class="badge" style="left:251px;top:970px;width:351px;height:72px;line-height:71px">Needle Head Bit</div>
<div class="badge" style="left:1067px;top:958.8px;width:230px;height:61px;line-height:60px">Safety Bit</div>
<div class="badge" style="left:544px;top:1236px;width:518px;height:79px;line-height:78px">Mandrel Sanding Band</div>
<div class="desc" style="left:686.6px;top:374.4px;font-size:37.4px">Remove Beige<br>parts on the<br>nail surface</div>
<div class="desc" style="left:342.1px;top:677.9px;font-size:37.4px">Buff nail surface<br>and remove<br>nail polish</div>
<div class="desc" style="left:1031.1px;top:697.5px;font-size:37.3px">Buff nail surface and<br>remove acrylic nails</div>
<div class="desc" style="left:268.1px;top:1058.2px;font-size:37.15px">Polish the nail edge</div>
<div class="desc" style="left:1072.1px;top:1028px;font-size:37.3px">Polish the nail<br>edge</div>
<div class="desc" style="left:559.1px;top:1334.2px;font-size:37.1px">Use with sanding bands to polish<br>hard and nails rough nails</div>
</div></body></html>
